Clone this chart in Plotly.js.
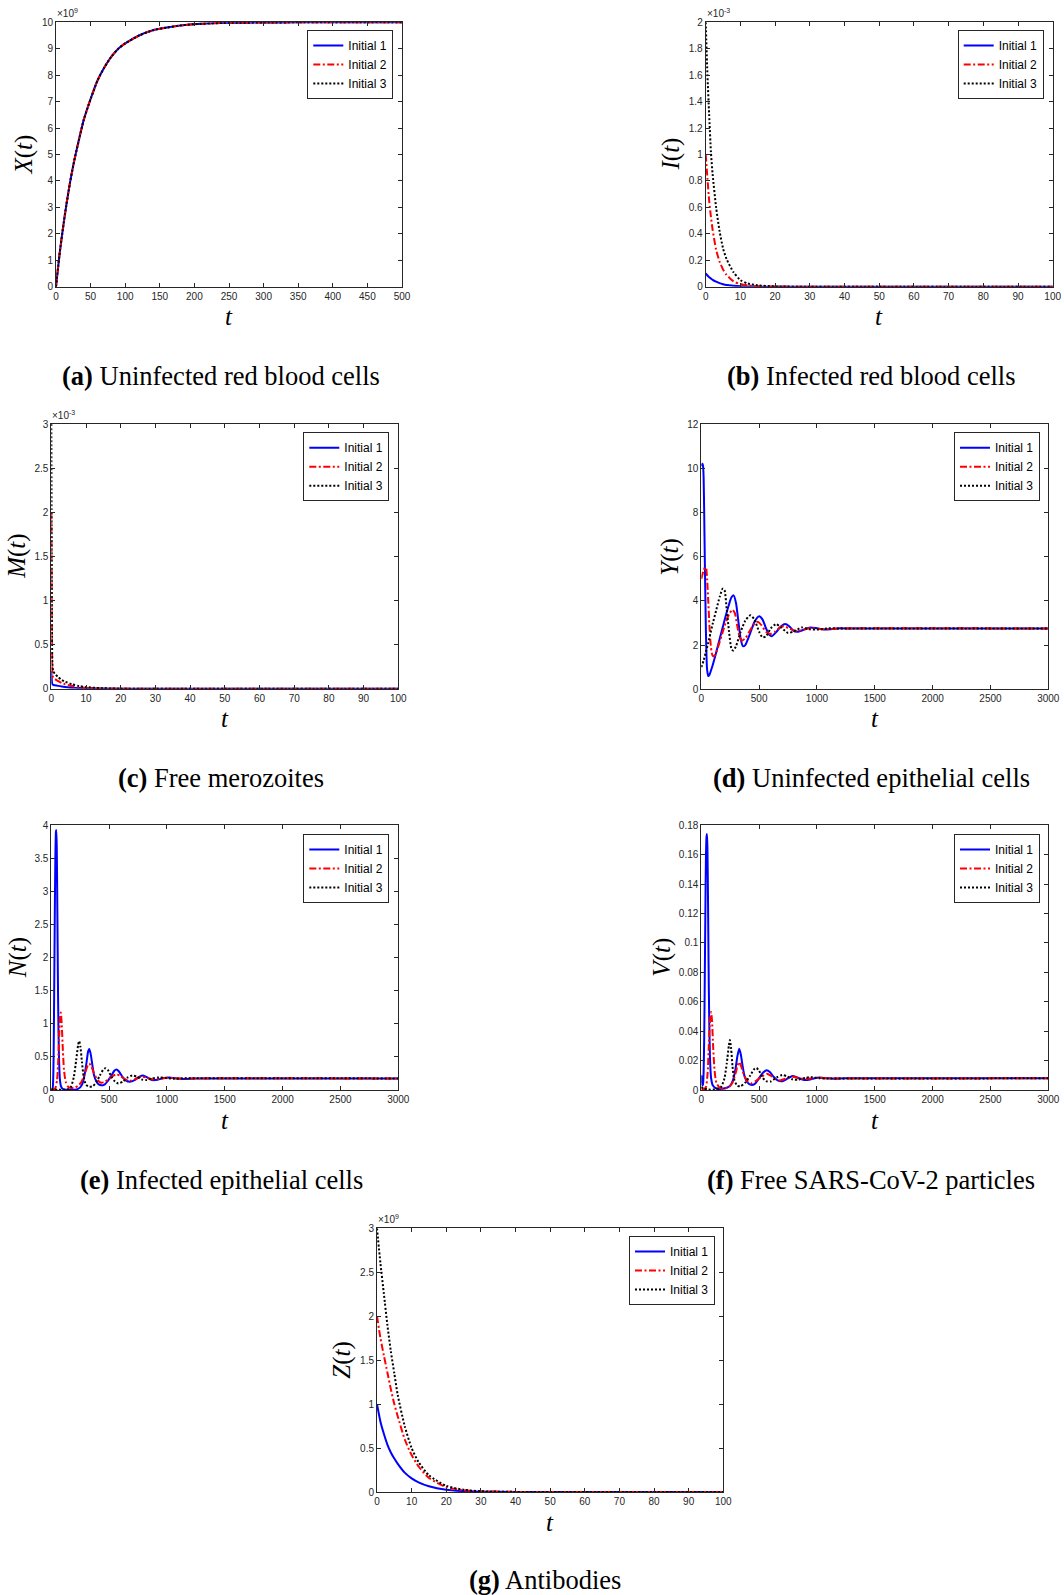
<!DOCTYPE html>
<html>
<head>
<meta charset="utf-8">
<script src="https://cdn.plot.ly/plotly-3.0.1.min.js"></script>
<style>
html,body{margin:0;padding:0;background:#fff;}
#chart{width:1064px;height:1595px;}
</style>
</head>
<body>
<div id="chart"></div>
<script>
// ---------------- DATA ----------------
const seriesNames = ["Initial 1", "Initial 2", "Initial 3"];

// (a) X(t), in units of 1e9
const tX = [0,5,10,15,20,25,30,40,50,60,70,80,90,100,120,140,160,180,200,250,300,350,400,450,500];
const X1 = [0,1.2,2.2,3.1,3.9,4.6,5.2,6.3,7.1,7.8,8.3,8.7,9.0,9.2,9.5,9.7,9.8,9.88,9.93,9.98,9.99,10,10,10,10];
const X2 = [0,1.2,2.2,3.1,3.9,4.6,5.2,6.3,7.1,7.8,8.3,8.7,9.0,9.2,9.5,9.7,9.8,9.88,9.93,9.98,9.99,10,10,10,10];
const X3 = [0,1.2,2.2,3.1,3.9,4.6,5.2,6.3,7.1,7.8,8.3,8.7,9.0,9.2,9.5,9.7,9.8,9.88,9.93,9.98,9.99,10,10,10,10];

// (b) I(t), in units of 1e-3
const tI = [0,0.5,1,1.5,2,3,4,5,6,8,10,12,15,20,30,50,100];
const I1 = [0.10,0.085,0.072,0.062,0.052,0.038,0.027,0.019,0.013,0.007,0.003,0.0015,0.0005,0,0,0,0];
const I2 = [1.0,0.82,0.65,0.53,0.43,0.28,0.19,0.13,0.09,0.04,0.02,0.01,0.004,0.001,0,0,0];
const I3 = [2.0,1.6,1.3,1.02,0.85,0.6,0.42,0.29,0.21,0.11,0.05,0.025,0.01,0.002,0,0,0];

// (c) M(t), in units of 1e-3
const tM = [0,0.1,0.2,0.3,0.5,1,2,3,4,6,8,10,15,20,50,100];
const M1 = [0.2,0.12,0.07,0.05,0.045,0.04,0.032,0.025,0.02,0.012,0.007,0.004,0.001,0,0,0];
const M2 = [2.0,1.0,0.45,0.2,0.13,0.11,0.085,0.065,0.05,0.03,0.017,0.01,0.003,0.001,0,0];
const M3 = [3.0,1.5,0.6,0.3,0.2,0.17,0.13,0.10,0.08,0.05,0.03,0.018,0.005,0.001,0,0];

// (d) Y(t)
const tY1 = [0,5,10,15,20,25,30,35,40,45,50,60,70,90,120,150,180,210,240,260,280,300,320,340,360,380,420,460,500,530,560,590,610,650,690,725,760,800,830,880,940,1000,1060,1120,1200,1300,3000];
const Y1  = [10.1,10.15,10.2,10.1,9.6,8,6,4.2,2.6,1.5,0.9,0.6,0.65,0.95,1.5,2.1,2.7,3.3,3.85,4.15,4.25,3.9,3.1,2.3,1.95,2.0,2.5,3.05,3.3,3.15,2.75,2.45,2.4,2.6,2.85,2.95,2.85,2.63,2.6,2.68,2.8,2.76,2.7,2.72,2.76,2.75,2.75];
const tY2 = [0,10,20,30,40,50,60,70,80,90,100,120,150,180,210,240,270,290,310,330,350,380,420,460,490,520,560,595,640,680,715,760,830,900,950,1020,1100,1200,3000];
const Y2  = [5.0,5.2,5.35,5.5,5.5,5.0,4.0,2.9,2.1,1.65,1.5,1.55,2.0,2.5,3.0,3.4,3.6,3.45,2.9,2.4,2.2,2.3,2.65,2.98,3.05,2.9,2.6,2.5,2.62,2.8,2.85,2.75,2.63,2.72,2.78,2.73,2.72,2.75,2.75];
const tY3 = [0,20,40,60,80,100,130,160,185,200,220,240,260,275,300,340,380,425,460,500,530,560,600,645,690,750,800,870,930,1000,1100,1200,3000];
const Y3  = [1.0,1.3,1.7,2.1,2.55,3.0,3.6,4.2,4.55,4.5,3.6,2.6,1.85,1.75,1.95,2.6,3.1,3.35,3.15,2.6,2.35,2.4,2.75,2.95,2.8,2.55,2.62,2.8,2.72,2.7,2.76,2.75,2.75];

// (e) N(t)
const tN1 = [0,10,15,20,25,30,35,40,43,47,52,57,62,68,75,85,100,130,180,220,250,270,290,305,318,328,340,355,370,390,410,435,460,490,520,545,563,585,610,640,680,720,760,793,830,870,920,970,1020,1080,1150,1250,3000];
const N1  = [0,0.01,0.1,0.5,1.5,2.6,3.5,3.9,3.93,3.7,2.8,1.7,0.9,0.4,0.15,0.05,0.015,0.005,0.003,0.01,0.04,0.1,0.25,0.42,0.58,0.62,0.55,0.38,0.22,0.13,0.085,0.07,0.08,0.14,0.22,0.29,0.31,0.28,0.21,0.15,0.125,0.15,0.2,0.22,0.19,0.15,0.155,0.18,0.19,0.175,0.168,0.175,0.175];
const tN2 = [0,20,35,50,60,70,78,82,90,100,110,125,145,170,200,230,260,290,315,328,345,370,400,430,460,500,540,565,600,640,680,720,760,790,830,880,940,1000,1060,1150,1250,3000];
const N2  = [0,0.005,0.03,0.15,0.45,0.9,1.15,1.17,1.0,0.6,0.3,0.12,0.05,0.03,0.035,0.06,0.12,0.25,0.37,0.4,0.36,0.25,0.15,0.11,0.12,0.17,0.22,0.24,0.21,0.16,0.14,0.16,0.19,0.2,0.18,0.16,0.17,0.185,0.18,0.172,0.175,0.175];
const tN3 = [0,20,60,100,140,170,195,215,232,241,252,265,280,300,330,360,390,420,450,468,490,520,550,580,620,660,700,740,780,820,870,930,990,1060,1150,3000];
const N3  = [0.02,0.005,0.002,0.003,0.01,0.05,0.2,0.45,0.68,0.74,0.65,0.42,0.2,0.08,0.05,0.06,0.12,0.22,0.31,0.33,0.3,0.2,0.13,0.1,0.13,0.19,0.22,0.2,0.16,0.15,0.175,0.19,0.18,0.17,0.176,0.175];

// (f) V(t)
const tV1 = [0,5,10,15,20,25,30,35,40,45,49,53,58,63,68,75,85,100,130,180,220,250,275,295,312,328,342,358,375,400,430,460,495,530,565,595,625,660,700,740,790,830,880,930,980,1020,1080,1150,1250,3000];
const V1  = [0.01,0.006,0.003,0.004,0.012,0.035,0.075,0.12,0.158,0.172,0.174,0.165,0.13,0.085,0.05,0.022,0.008,0.003,0.001,0.0008,0.0015,0.003,0.007,0.014,0.023,0.028,0.024,0.016,0.009,0.005,0.0035,0.004,0.0075,0.0115,0.0135,0.012,0.009,0.0065,0.006,0.0075,0.0095,0.0085,0.007,0.007,0.008,0.0085,0.008,0.0077,0.008,0.008];
const tV2 = [0,20,40,55,65,75,84,92,102,115,130,160,200,240,270,295,315,328,345,370,400,430,470,520,565,600,640,680,730,790,840,900,960,1020,1100,3000];
const V2  = [0.001,0.0005,0.002,0.012,0.03,0.047,0.053,0.048,0.03,0.013,0.005,0.0015,0.001,0.002,0.005,0.011,0.017,0.019,0.016,0.01,0.006,0.0045,0.006,0.009,0.011,0.0098,0.0075,0.0065,0.0078,0.009,0.0082,0.0075,0.008,0.0084,0.008,0.008];
const tV3 = [0,20,60,120,170,200,220,238,247,258,270,285,310,340,380,420,455,477,500,530,560,600,650,700,745,790,840,900,950,1020,1100,3000];
const V3  = [0.002,0.001,0.0003,0.0004,0.002,0.008,0.018,0.03,0.034,0.028,0.016,0.007,0.003,0.0025,0.005,0.0095,0.014,0.015,0.013,0.0085,0.006,0.0058,0.0085,0.0102,0.0092,0.0072,0.007,0.0083,0.0087,0.008,0.0078,0.008];

// (g) Z(t), in units of 1e9
const tZ = [0,1,2,3,4,5,6,8,10,12,15,20,25,30,40,50,100];
const Z1 = [1,0.8,0.66,0.54,0.45,0.38,0.32,0.22,0.155,0.11,0.065,0.025,0.01,0.004,0.001,0,0];
const Z2 = [2,1.75,1.55,1.36,1.17,1.0,0.86,0.6,0.42,0.29,0.16,0.055,0.02,0.007,0.001,0,0];
const Z3 = [3,2.6,2.25,1.9,1.6,1.35,1.1,0.75,0.5,0.34,0.19,0.07,0.025,0.009,0.001,0,0];

// Captions and labels
const captionTags  = ["(a)","(b)","(c)","(d)","(e)","(f)","(g)"];
const captionTexts = ["Uninfected red blood cells","Infected red blood cells","Free merozoites",
                      "Uninfected epithelial cells","Infected epithelial cells","Free SARS-CoV-2 particles","Antibodies"];
const yLetters = ["X","I","M","Y","N","V","Z"];
const exponents = ["9","-3","-3",null,null,null,"9"];

// ---------------- LAYOUT ----------------
const W = 1064, H = 1595;
const panels = [
  {x:[56,402],    y:[22.3,286.7],  xr:[0,500],  xd:50,  yr:[0,10],   yd:1,    ytx:24,    xty:316,  cap:[221,376],  leg:[393.3,30],
   t:[tX,tX,tX], v:[X1,X2,X3]},
  {x:[705.7,1052.7], y:[22.3,286.7], xr:[0,100], xd:10, yr:[0,2], yd:0.2, ytx:671, xty:316, cap:[871,376], leg:[1043.7,30],
   t:[tI,tI,tI], v:[I1,I2,I3]},
  {x:[51.3,398.3], y:[424,688.7], xr:[0,100], xd:10, yr:[0,3], yd:0.5, ytx:17.5, xty:718.5, cap:[221,778], leg:[389.3,432.3],
   t:[tM,tM,tM], v:[M1,M2,M3]},
  {x:[701.3,1048.3], y:[424,689.3], xr:[0,3000], xd:500, yr:[0,12], yd:2, ytx:670, xty:718.5, cap:[871,778], leg:[1040,432.3],
   t:[tY1,tY2,tY3], v:[Y1,Y2,Y3]},
  {x:[51.3,398.3], y:[825.3,1090], xr:[0,3000], xd:500, yr:[0,4], yd:0.5, ytx:17.5, xty:1120, cap:[221,1180], leg:[389.3,834],
   t:[tN1,tN2,tN3], v:[N1,N2,N3]},
  {x:[701.3,1048.3], y:[825.3,1090], xr:[0,3000], xd:500, yr:[0,0.18], yd:0.02, ytx:662, xty:1120, cap:[871,1180], leg:[1040,834],
   t:[tV1,tV2,tV3], v:[V1,V2,V3]},
  {x:[377,723.3], y:[1228.3,1492], xr:[0,100], xd:10, yr:[0,3], yd:0.5, ytx:342.5, xty:1522, cap:[545,1580], leg:[715,1236],
   t:[tZ,tZ,tZ], v:[Z1,Z2,Z3]}
];

const styles = [
  {color:'#0000FF', dash:'solid'},
  {color:'#FF0000', dash:'7px,2.5px,2px,2.5px'},
  {color:'#000000', dash:'2px,2px'}
];

const axisBase = {
  showline:true, linecolor:'#262626', linewidth:1, mirror:'ticks',
  ticks:'inside', ticklen:4, tickwidth:1, tickcolor:'#262626',
  showgrid:false, zeroline:false, fixedrange:true,
  tickfont:{family:'Liberation Sans, Arial, sans-serif', size:10, color:'#262626'}
};

const traces = [];
const layout = {
  width:W, height:H, margin:{l:0,r:0,t:0,b:0},
  paper_bgcolor:'#fff', plot_bgcolor:'#fff',
  annotations:[], showlegend:true
};

panels.forEach((p, i) => {
  const k = i === 0 ? '' : String(i+1);
  const xa = 'x' + k, ya = 'y' + k;
  const legName = 'legend' + k;
  layout['xaxis' + k] = Object.assign({}, axisBase, {
    domain:[p.x[0]/W, p.x[1]/W], range:p.xr, dtick:p.xd, tick0:0, anchor:ya
  });
  layout['yaxis' + k] = Object.assign({}, axisBase, {
    domain:[1 - p.y[1]/H, 1 - p.y[0]/H], range:p.yr, dtick:p.yd, tick0:0, anchor:xa
  });
  layout[legName] = {
    x:p.leg[0]/W, y:1 - p.leg[1]/H, xanchor:'right', yanchor:'top',
    bgcolor:'#fff', bordercolor:'#262626', borderwidth:1,
    font:{family:'Liberation Sans, Arial, sans-serif', size:12, color:'#000'},
    tracegroupgap:0
  };
  for (let s = 0; s < 3; s++) {
    traces.push({
      type:'scatter', mode:'lines', x:p.t[s], y:p.v[s], name:seriesNames[s],
      xaxis:xa, yaxis:ya, legend:legName, showlegend:true, hoverinfo:'skip',
      line:{color:styles[s].color, dash:styles[s].dash, width:2, shape:'spline', smoothing:0.6},
      cliponaxis:true
    });
  }
  // y-axis title
  layout.annotations.push({
    xref:'paper', yref:'paper', x:p.ytx/W, y:1 - (p.y[0]+p.y[1])/2/H,
    xanchor:'center', yanchor:'middle', textangle:-90, showarrow:false,
    text:'<i>' + yLetters[i] + '</i>(<i>t</i>)',
    font:{family:'Liberation Serif, Times New Roman, serif', size:25, color:'#000'}
  });
  // x-axis title
  layout.annotations.push({
    xref:'paper', yref:'paper', x:(p.x[0]+p.x[1])/2/W, y:1 - p.xty/H,
    xanchor:'center', yanchor:'middle', showarrow:false,
    text:'<i>t</i>',
    font:{family:'Liberation Serif, Times New Roman, serif', size:25, color:'#000'}
  });
  // exponent label
  if (exponents[i] !== null) {
    layout.annotations.push({
      xref:'paper', yref:'paper', x:(p.x[0]-1)/W, y:1 - (p.y[0]-1)/H,
      xanchor:'left', yanchor:'bottom', showarrow:false,
      text:'\u00d710<sup>' + exponents[i] + '</sup>',
      font:{family:'Liberation Sans, Arial, sans-serif', size:10, color:'#262626'}
    });
  }
  // caption
  layout.annotations.push({
    xref:'paper', yref:'paper', x:p.cap[0]/W, y:1 - p.cap[1]/H,
    xanchor:'center', yanchor:'middle', showarrow:false,
    text:'<b>' + captionTags[i] + '</b> ' + captionTexts[i],
    font:{family:'Liberation Serif, Times New Roman, serif', size:26.5, color:'#000'}
  });
});

Plotly.newPlot('chart', traces, layout, {staticPlot:true, displayModeBar:false});
</script>
</body>
</html>
